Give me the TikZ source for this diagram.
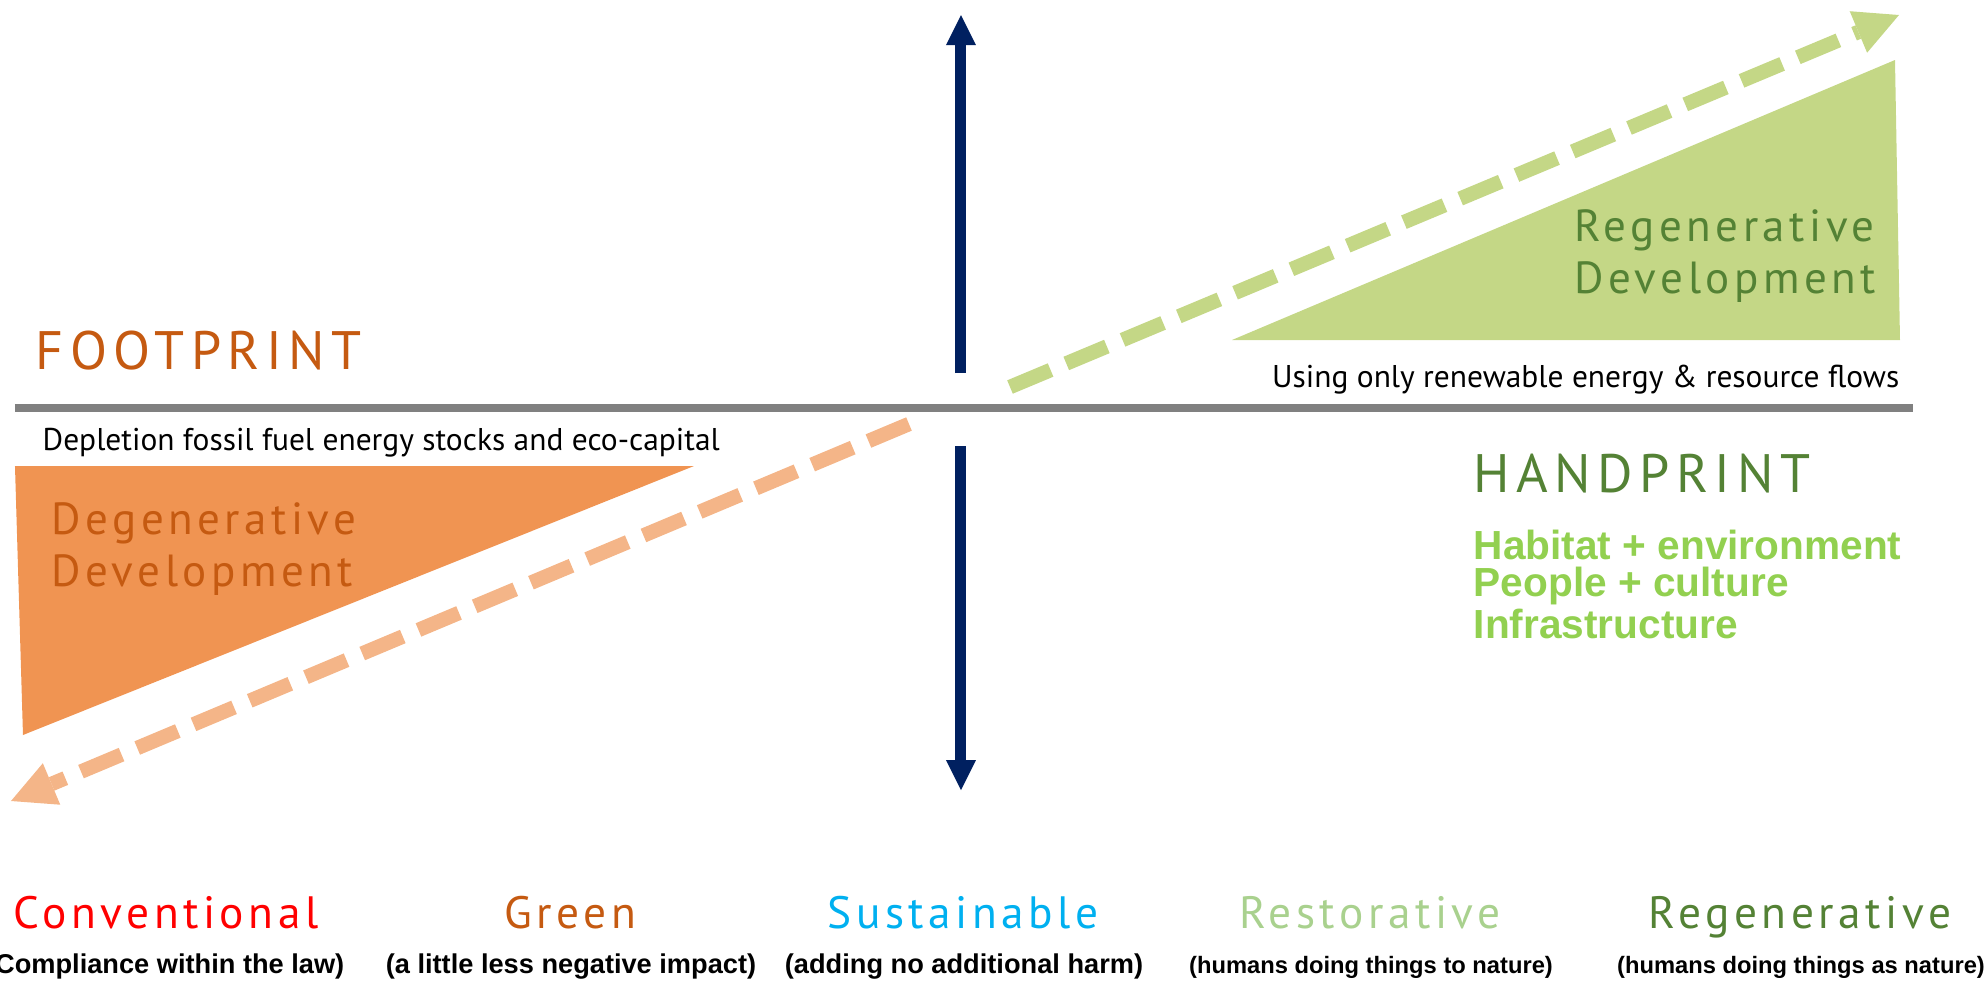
\documentclass[tikz,border=0pt]{standalone}
\usepackage{fontspec}
\setmainfont{PT Sans}
\newfontfamily\trackfont[LetterSpace=10]{PT Sans}
\newfontfamily\widefont[LetterSpace=12]{PT Sans}
\newfontfamily\arialfont{Liberation Sans}
\usetikzlibrary{arrows.meta,positioning}

\definecolor{navy}{RGB}{0,32,96}
\definecolor{axisgrey}{RGB}{128,128,128}
\definecolor{degorange}{RGB}{240,148,82}
\definecolor{dashorange}{RGB}{244,181,136}
\definecolor{ochre}{RGB}{197,90,17}
\definecolor{leafgreen}{RGB}{196,215,134}
\definecolor{darkgreen}{RGB}{84,130,53}
\definecolor{limegreen}{RGB}{146,208,80}
\definecolor{sky}{RGB}{0,176,240}
\definecolor{sage}{RGB}{169,209,142}

\tikzset{
    axisarrow/.style={navy, line width=0.11cm, -{Triangle[width=0.30cm,length=0.30cm,line width=0pt]}},
    trendarrow/.style={line width=0.145cm, dash pattern=on 0.44cm off 0.17cm, -{Triangle[width=0.45cm,length=0.44cm,line width=0pt]}},
    heading/.style={inner sep=0, font=\widefont\fontsize{15.4}{18}\selectfont},
    devlabel/.style={inner sep=0, align=left, font=\trackfont\fontsize{12.8}{14.8}\selectfont},
    category/.style={inner sep=0, font=\trackfont\fontsize{12.9}{16}\selectfont},
    caption/.style={inner sep=0, font=\fontsize{8.95}{10}\selectfont},
    remark/.style={inner sep=0, font=\arialfont\bfseries\fontsize{7.74}{9}\selectfont},
    smallremark/.style={remark, font=\arialfont\bfseries\fontsize{6.75}{8}\selectfont},
}

\begin{document}
\begin{tikzpicture}
        \useasboundingbox (-9.61,-5.73) rectangle (10.25,4.08);
        \fill[degorange] (-9.46,-0.58) -- (-2.67,-0.58) -- (-9.38,-3.27) -- cycle;
        \fill[leafgreen] (2.71,0.68) -- (9.39,0.68) -- (9.34,3.48) -- cycle;
        \draw[axisgrey, line width=0.08cm] (-9.46,0) -- (9.52,0);
        \draw[axisarrow] (0,0.35) -- (0,3.93);
        \draw[axisarrow] (0,-0.38) -- (0,-3.82);
        \draw[trendarrow, leafgreen] (0.49,0.21) -- (9.38,3.93);
        \draw[trendarrow, dashorange] (-0.52,-0.16) -- (-9.50,-3.93);
        \node[heading, ochre, anchor=west] (footprint) at (-9.26,0.57) {FOOTPRINT};
        \node[caption, anchor=base west] (depletion) at (-9.19,-0.42) {Depletion fossil fuel energy stocks and eco-capital};
        \node[devlabel, ochre, anchor=west] (degenerative) at (-9.10,-1.41) {Degenerative\\Development};
        \node[devlabel, darkgreen, anchor=west] (regenerative) at (6.13,1.52) {Regenerative\\Development};
        \node[caption, anchor=base east] (renewable) at (9.39,0.21) {Using only renewable energy \& resource flows};
        \node[heading, darkgreen, anchor=west] (handprint) at (5.12,-0.66) {HANDPRINT};
        \node[inner sep=0, align=left, limegreen, font=\arialfont\bfseries\fontsize{11.56}{10.7}\selectfont, anchor=north west] (assets) at (5.12,-1.21) {Habitat + environment\\People + culture\\Infrastructure};
        \node[category, red, anchor=base] (conventional) at (-7.95,-5.20) {Conventional};
        \node[category, ochre, anchor=base] (green) at (-3.91,-5.20) {Green};
        \node[category, sky, anchor=base] (sustainable) at (0.02,-5.20) {Sustainable};
        \node[category, sage, anchor=base] (restorative) at (4.09,-5.20) {Restorative};
        \node[category, darkgreen, anchor=base] (regen) at (8.39,-5.20) {Regenerative};
        \node[remark, anchor=base east] (law) at (-6.16,-5.65) {Compliance within the law)};
        \node[remark, anchor=base] (lessimpact) at (-3.90,-5.65) {(a little less negative impact)};
        \node[remark, anchor=base] (noharm) at (0.03,-5.65) {(adding no additional harm)};
        \node[smallremark, anchor=base] (tonature) at (4.10,-5.65) {(humans doing things to nature)};
        \node[smallremark, anchor=base] (asnature) at (8.40,-5.65) {(humans doing things as nature)};
    \end{tikzpicture}
\end{document}
